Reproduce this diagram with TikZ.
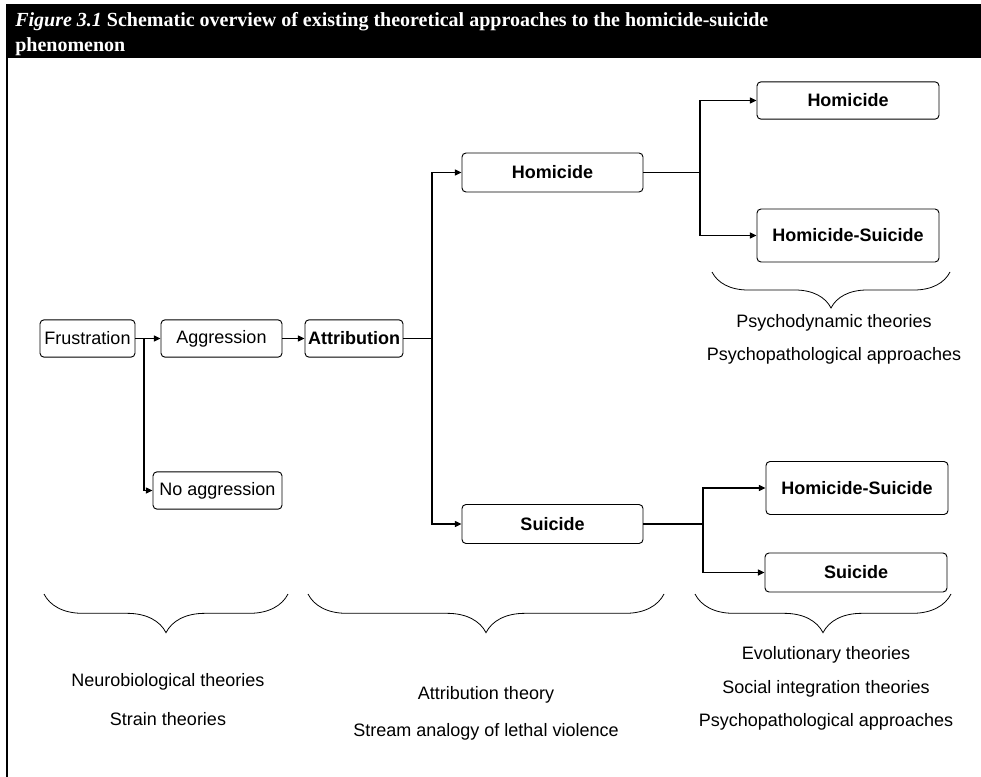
\documentclass[tikz,border=0pt]{standalone}
\usepackage{fontspec}
\setmainfont{Liberation Sans}
\newfontfamily\capfont{Liberation Serif}
\usetikzlibrary{arrows.meta, decorations.pathreplacing}

\begin{document}
\begin{tikzpicture}[x=0.75pt, y=-0.75pt,
		box/.style={draw, rounded corners=3pt, line width=0.7pt, inner sep=0pt, minimum height=28pt, font=\fontsize{13.5}{16}\selectfont},
		bbox/.style={box, font=\fontsize{13.5}{16}\selectfont\bfseries},
		wire/.style={line width=0.9pt},
		arr/.style={wire, -{Triangle[length=5pt, width=4.5pt]}},
		brc/.style={decorate, decoration={brace, mirror, amplitude=29pt}, line width=0.6pt},
		lbl/.style={font=\fontsize{13.5}{16}\selectfont}]
	\useasboundingbox (0,0) rectangle (981,777);
	% Title bar and frame:
	\fill[black] (6,4) rectangle (981,58);
	\draw[line width=2pt] (7,57) -- (7,777);
	\node[anchor=north west, text=white, align=left, inner sep=0pt, font=\capfont\fontsize{15}{18.5}\selectfont\bfseries] (title) at (15,12)
		{\textit{Figure 3.1} Schematic overview of existing theoretical approaches to the homicide-suicide\\phenomenon};
	% Boxes:
	\node[box, minimum width=71.25pt] (frus) at (87.5,338.5) {Frustration};
	\node[box, minimum width=90.75pt] (aggr) at (221.5,338.5) {Aggression};
	\node[bbox, minimum width=73.5pt] (attr) at (354,338.5) {Attribution};
	\node[box, minimum width=96.75pt] (noaggr) at (217.5,490.5) {No aggression};
	\node[bbox, minimum width=135.75pt, minimum height=29.25pt] (homA) at (552.5,172.5) {Homicide};
	\node[bbox, minimum width=135.75pt, minimum height=29.25pt] (suiA) at (552.5,524) {Suicide};
	\node[bbox, minimum width=136.5pt] (homB) at (848,100.5) {Homicide};
	\node[bbox, minimum width=136.5pt, minimum height=39.75pt] (hsA) at (848,235.5) {Homicide-Suicide};
	\node[bbox, minimum width=136.5pt, minimum height=39.75pt] (hsB) at (857,488) {Homicide-Suicide};
	\node[bbox, minimum width=136.5pt, minimum height=29.25pt] (suiB) at (856,572.5) {Suicide};
	% Junctions:
	\coordinate (jf) at (144,338.5);
	\coordinate (ja) at (432,338.5);
	\coordinate (jh) at (700,172.5);
	\coordinate (js) at (703,524);
	% Connectors:
	\draw[arr] (frus) -- (aggr);
	\draw[arr] (aggr) -- (attr);
	\draw[wire] (frus.east) -- (jf);
	\draw[arr] (jf) |- (noaggr);
	\draw[wire] (attr.east) -- (ja);
	\draw[arr] (ja) |- (homA);
	\draw[arr] (ja) |- (suiA);
	\draw[wire] (homA.east) -- (jh);
	\draw[arr] (jh) |- (homB);
	\draw[arr] (jh) |- (hsA);
	\draw[wire] (suiA.east) -- (js);
	\draw[arr] (js) |- (hsB);
	\draw[arr] (js) |- (suiB);
	% Braces and theories:
	\draw[brc, decoration={amplitude=27pt}] (712,272) -- (950,272);
	\draw[brc] (44,594) -- (288,594);
	\draw[brc] (308,594) -- (664,594);
	\draw[brc] (695,594) -- (951,594);
	\node[lbl] (psydyn) at (834,323) {Psychodynamic theories};
	\node[lbl] (psypatA) at (834,356) {Psychopathological approaches};
	\node[lbl] (neuro) at (168,682) {Neurobiological theories};
	\node[lbl] (strain) at (168,719) {Strain theories};
	\node[lbl] (attrth) at (486,695) {Attribution theory};
	\node[lbl] (stream) at (486,732) {Stream analogy of lethal violence};
	\node[lbl] (evol) at (826,655) {Evolutionary theories};
	\node[lbl] (social) at (826,689) {Social integration theories};
	\node[lbl] (psypatB) at (826,722) {Psychopathological approaches};
\end{tikzpicture}
\end{document}
